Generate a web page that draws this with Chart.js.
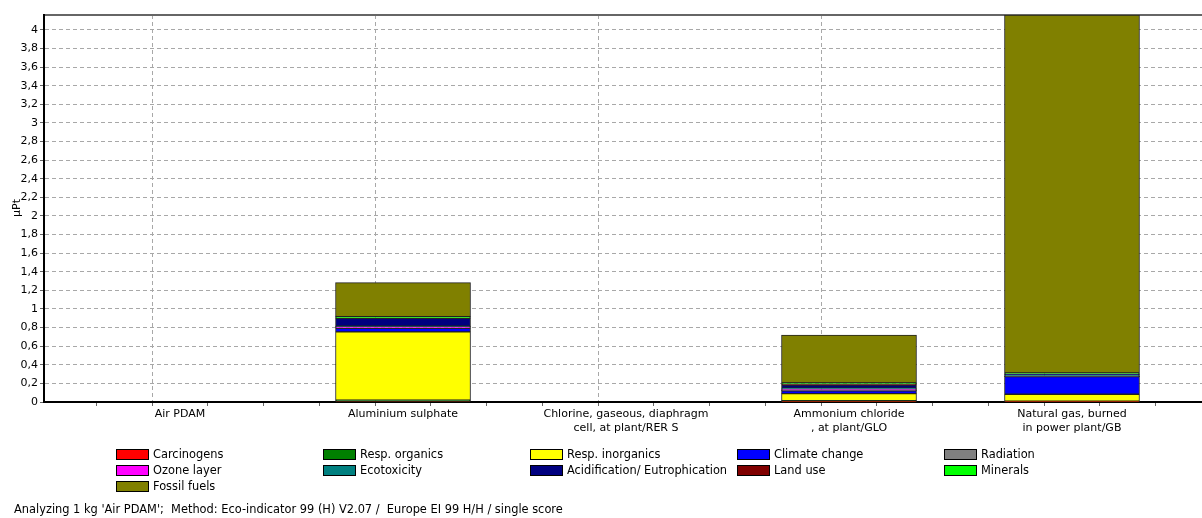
<!DOCTYPE html>
<html><head><meta charset="utf-8">
<script src="https://cdn.jsdelivr.net/npm/chart.js@4/dist/chart.umd.min.js"></script>
<style>html,body{margin:0;padding:0;background:#fff;overflow:hidden}#wrap{width:1202px;height:518px;position:relative}</style>
</head><body><div id="wrap"><canvas id="c" width="1202" height="518"></canvas></div>
<script>
// ---- data ----
const categories = ['Air PDAM', 'Aluminium sulphate', 'Chlorine, gaseous, diaphragm cell, at plant/RER S', 'Ammonium chloride, at plant/GLO', 'Natural gas, burned in power plant/GB'];
const categoryLabels = [
  'Air PDAM',
  'Aluminium sulphate',
  ['Chlorine, gaseous, diaphragm', 'cell, at plant/RER S'],
  ['Ammonium chloride', ', at plant/GLO'],
  ['Natural gas, burned', 'in power plant/GB']
];
const seriesNames = ['Carcinogens', 'Resp. organics', 'Resp. inorganics', 'Climate change', 'Radiation', 'Ozone layer', 'Ecotoxicity', 'Acidification/ Eutrophication', 'Land use', 'Minerals', 'Fossil fuels'];
const seriesColors = ['#FF0000', '#008000', '#FFFF00', '#0000FF', '#808080', '#FF00FF', '#008080', '#000080', '#800000', '#00FF00', '#808000'];
const carcinogens    = [0, 0.005, 0, 0.003, 0.003];
const respOrganics   = [0, 0.015, 0, 0.012, 0.005];
const respInorganics = [0, 0.733, 0, 0.075, 0.075];
const climateChange  = [0, 0.040, 0, 0.030, 0.190];
const radiation      = [0, 0.002, 0, 0.003, 0.003];
const ozoneLayer     = [0, 0.015, 0, 0.015, 0.002];
const ecotoxicity    = [0, 0.005, 0, 0.010, 0.012];
const acidification  = [0, 0.085, 0, 0.035, 0.008];
const landUse        = [0, 0.003, 0, 0.010, 0.002];
const minerals       = [0, 0.015, 0, 0.012, 0.012];
const fossilFuels    = [0, 0.365, 0, 0.515, 3.848];
const yTickValues = [0, 0.2, 0.4, 0.6, 0.8, 1, 1.2, 1.4, 1.6, 1.8, 2, 2.2, 2.4, 2.6, 2.8, 3, 3.2, 3.4, 3.6, 3.8, 4];
const yMax = 4.16;
const yTitle = 'µPt';
const footerText = "Analyzing 1 kg 'Air PDAM';  Method: Eco-indicator 99 (H) V2.07 /  Europe EI 99 H/H / single score";

const seriesValues = [carcinogens, respOrganics, respInorganics, climateChange, radiation, ozoneLayer, ecotoxicity, acidification, landUse, minerals, fossilFuels];

const FONT = 'DejaVu Sans';
const FS = 11;
const FS_LEG = 11.4;

const datasets = seriesNames.map((name, i) => ({
  label: name,
  data: seriesValues[i].map((v, j) => ({ x: j + 1, y: v })),
  backgroundColor: seriesColors[i],
  borderColor: '#222',
  borderWidth: 1,
  borderSkipped: false,
  barThickness: 135
}));

const overlay = {
  id: 'overlay',
  afterDraw(chart) {
    const ctx = chart.ctx;
    ctx.save();
    ctx.font = FS_LEG + 'px "' + FONT + '"';
    ctx.fillStyle = '#000';
    ctx.textBaseline = 'middle';
    ctx.textAlign = 'left';
    const cols = [116, 323, 530, 737, 944];
    const rows = [454, 470, 486];
    chart.data.datasets.forEach((ds, i) => {
      const x = cols[i % 5], y = rows[Math.floor(i / 5)];
      ctx.fillStyle = ds.backgroundColor;
      ctx.fillRect(x, y - 5, 33, 11);
      ctx.strokeStyle = '#000';
      ctx.lineWidth = 1;
      ctx.strokeRect(x + 0.5, y - 4.5, 32, 10);
      ctx.fillStyle = '#000';
      ctx.fillText(ds.label, x + 37, y + 1);
    });
    ctx.fillText(footerText, 14, 510);
    ctx.font = FS + 'px "' + FONT + '"';
    ctx.translate(17, 208);
    ctx.rotate(-Math.PI / 2);
    ctx.textAlign = 'center';
    ctx.fillText(yTitle, 0, 0);
    ctx.restore();
  }
};

new Chart(document.getElementById('c'), {
  type: 'bar',
  data: { datasets },
  options: {
    responsive: false,
    animation: false,
    layout: { padding: 0 },
    plugins: { legend: { display: false }, tooltip: { enabled: false } },
    scales: {
      x: {
        type: 'linear', min: 0.39, max: 5.583, stacked: true, offset: false,
        afterBuildTicks(scale) {
          const t = [];
          for (let k = 2; k <= 22; k++) t.push({ value: k / 4 });
          scale.ticks = t;
        },
        afterFit(scale) { scale.height = 116; },
        grid: {
          color: c => (c.tick && Number.isInteger(c.tick.value)) ? '#a8a8a8' : 'rgba(0,0,0,0)',
          lineWidth: 1, drawTicks: true, tickLength: 4, tickColor: '#666', tickWidth: 1
        },
        border: { display: true, color: '#000', width: 2, dash: [4, 3] },
        ticks: {
          autoSkip: false, maxRotation: 0, minRotation: 0, padding: 1,
          color: '#000', font: { family: FONT, size: FS, lineHeight: 1.3 },
          callback: v => Number.isInteger(v) ? categoryLabels[v - 1] : ''
        }
      },
      x2: {
        type: 'linear', position: 'top', min: 0, max: 1, display: true,
        afterFit(scale) { scale.height = 15; },
        grid: { display: false, drawTicks: false },
        ticks: { display: false },
        border: { display: true, color: '#666', width: 2 }
      },
      y: {
        min: 0, max: yMax, stacked: true,
        afterBuildTicks(scale) { scale.ticks = yTickValues.map(v => ({ value: v })); },
        afterFit(scale) { scale.width = 44; },
        grid: {
          color: c => (c.tick && c.tick.value === 0) ? 'rgba(0,0,0,0)' : '#a8a8a8',
          lineWidth: 1, drawTicks: true, tickLength: 4, tickColor: '#666', tickWidth: 1
        },
        border: { display: true, color: '#000', width: 2, dash: [4, 3] },
        ticks: {
          padding: 2, color: '#000', font: { family: FONT, size: FS },
          callback: v => String(v).replace('.', ',')
        }
      }
    }
  },
  plugins: [overlay]
});
</script></body></html>
